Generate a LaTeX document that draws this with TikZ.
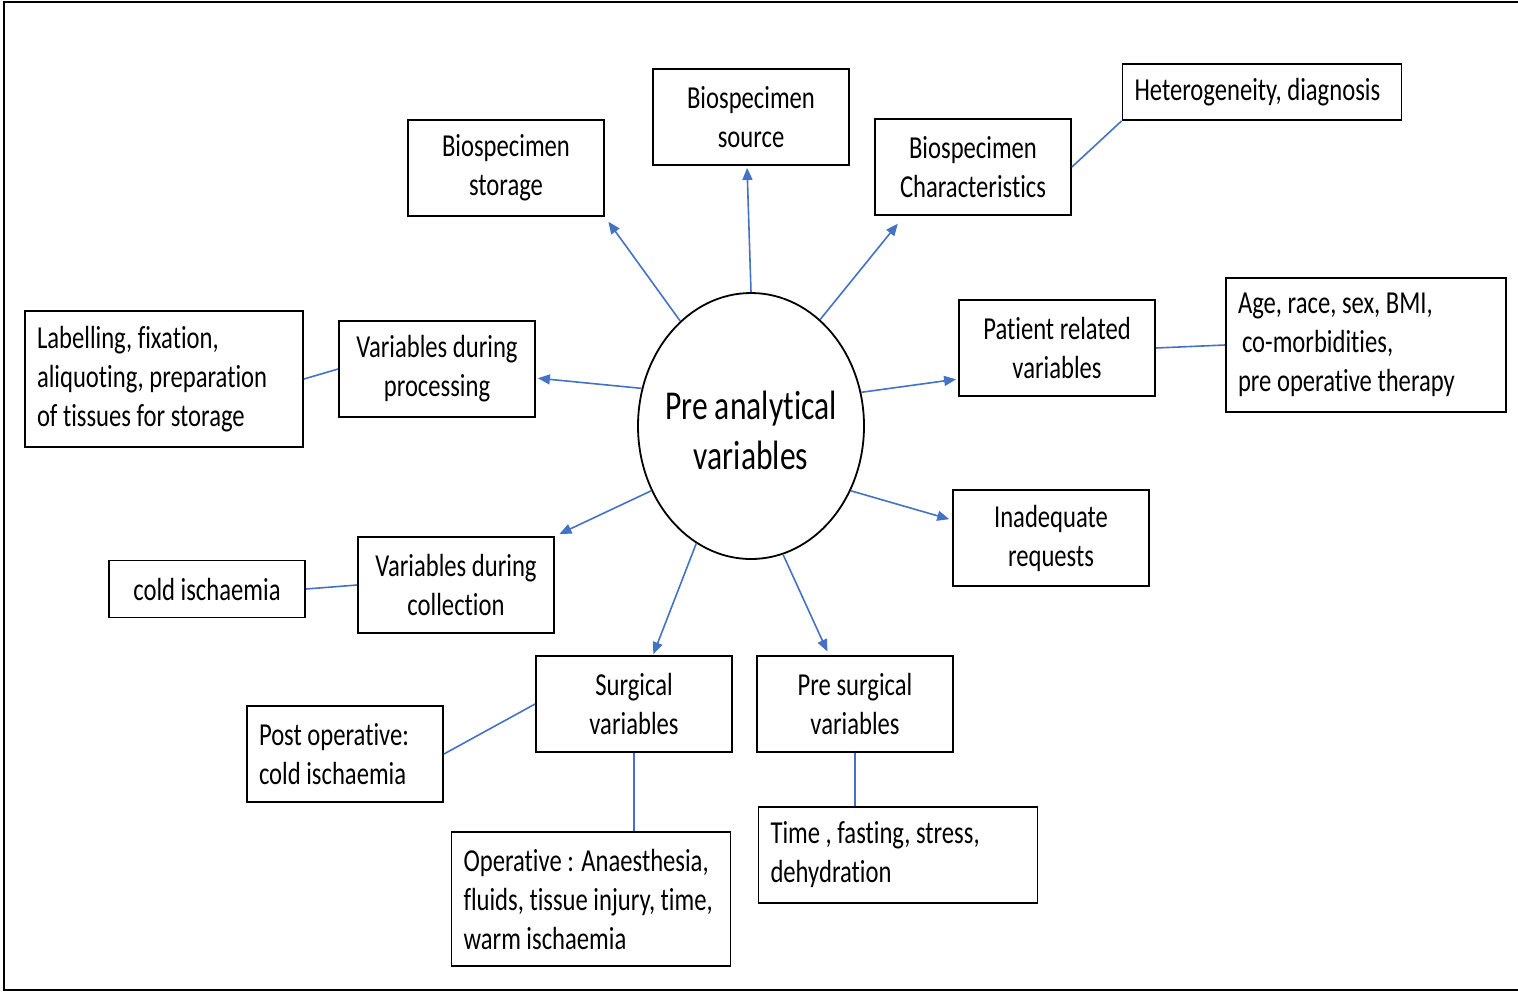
\documentclass[tikz,border=0pt]{standalone}
\usepackage{fontspec}
\setmainfont[FakeStretch=0.77,Ligatures=NoCommon]{Carlito}
\usetikzlibrary{arrows.meta}
\usetikzlibrary{shapes.geometric}
\definecolor{linkblue}{RGB}{68,114,196}

\begin{document}
\begin{tikzpicture}[x=0.5pt,y=-0.5pt,
	box/.style={draw, line width=0.9pt, inner sep=0pt, minimum width=98pt, minimum height=48pt, align=center, font=\fontsize{16}{19.5}\selectfont},
	lbox/.style={box, align=flush left, inner xsep=6pt},
	arr/.style={draw=linkblue, line width=0.8pt, -{Triangle[length=6pt,width=5pt]}},
	link/.style={draw=linkblue, line width=0.8pt}]
	\useasboundingbox (0,0) rectangle (1518,992);
	\draw[line width=1pt] (1518,2) -- (4,2) -- (4,990) -- (1518,990);
	% centre
	\node[ellipse, draw, line width=0.9pt, minimum width=113pt, minimum height=133pt, inner sep=0pt,
		label={[font=\fontsize{20.5}{25}\selectfont, align=center, yshift=-2pt]center:Pre analytical\\variables}] (pav) at (751,426) {};
	% first ring
	\node[box] (storage) at (506,168) {Biospecimen\\storage};
	\node[box] (source) at (751,117) {Biospecimen\\source};
	\node[box] (charac) at (973,167) {Biospecimen\\Characteristics};
	\node[box] (patient) at (1057,348) {Patient related\\variables};
	\node[box] (inadeq) at (1051,538) {Inadequate\\requests};
	\node[box] (presurg) at (855,704) {Pre surgical\\variables};
	\node[box] (surgical) at (634,704) {Surgical\\variables};
	\node[box] (collect) at (456,585) {Variables during\\collection};
	\node[box] (process) at (437,369) {Variables during\\processing};
	% second ring
	\node[lbox, text width=127.5pt, minimum height=28pt] (hetero) at (1262,92) {Heterogeneity, diagnosis};
	\node[lbox, text width=128pt, minimum height=67pt] (age) at (1366,345) {Age, race, sex, BMI,\\\hspace{2pt}co-morbidities,\\pre operative therapy};
	\node[lbox, text width=127.5pt] (timefast) at (898,855) {Time , fasting, stress,\\dehydration};
	\node[lbox, text width=127.5pt, minimum height=67pt] (operative) at (591,899) {Operative : Anaesthesia,\\fluids, tissue injury, time,\\warm ischaemia};
	\node[lbox, text width=86pt] (postop) at (345,754) {Post operative:\\cold ischaemia};
	\node[box, minimum height=28.5pt] (cold) at (207,589) {cold ischaemia};
	\node[lbox, text width=127pt, minimum height=68pt] (label) at (164,379) {Labelling, fixation,\\aliquoting, preparation\\of tissues for storage};
	% arrows
	\draw[arr, shorten >=3pt] (pav.124) -- (storage.south east);
	\draw[arr, shorten >=1pt] (pav.90) -- ([xshift=-2pt]source.south);
	\draw[arr, shorten >=5pt] (pav.57) -- ([xshift=15pt]charac.south west);
	\draw[arr, shorten >=1pt] (pav.17) -- ([yshift=-15.5pt]patient.west);
	\draw[arr, shorten >=1.5pt] (pav.327) -- ([yshift=9pt]inadeq.west);
	\draw[arr, shorten >=2pt] (pav.284) -- ([xshift=-13pt]presurg.north);
	\draw[arr, shorten >=0.5pt] (pav.245.6) -- ([xshift=9.5pt]surgical.north);
	\draw[arr, shorten >=2.5pt] (pav.213.7) -- (collect.north east);
	\draw[arr, shorten >=1pt] (pav.161.6) -- ([yshift=-4.5pt]process.east);
	% plain links
	\draw[link] (charac.east) -- (hetero.south west);
	\draw[link] (patient.east) -- (age.west);
	\draw[link] (label.east) -- (process.west);
	\draw[link] (cold.east) -- (collect.west);
	\draw[link] (postop.east) -- (surgical.west);
	\draw[link] (surgical.south) -- (surgical.south |- operative.north);
	\draw[link] (presurg.south) -- (presurg.south |- timefast.north);
\end{tikzpicture}
\end{document}
